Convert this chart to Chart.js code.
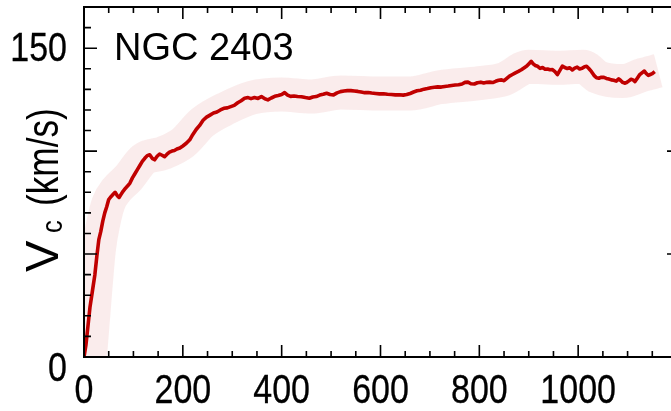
<!DOCTYPE html>
<html>
<head>
<meta charset="utf-8">
<script src="https://cdn.jsdelivr.net/npm/chart.js@4.4.0/dist/chart.umd.min.js"></script>
<style>
  html, body { margin: 0; padding: 0; background: #fff; overflow: hidden; width: 671px; height: 411px; }
  #wrap { position: absolute; left: 0; top: 0; width: 700px; height: 411px; }
</style>
</head>
<body>
<div id="wrap"><canvas id="c" width="700" height="411"></canvas></div>
<script>
// Rotation curve of NGC 2403: radius and circular velocity
const radius = [
  0, 4, 8, 12, 17, 22, 26, 30, 34, 38, 42, 46, 50, 55, 59, 63, 67, 71, 75, 79,
  84, 88, 93, 98, 103, 108, 113, 118, 123, 128, 133, 138, 143, 148, 153, 158, 163, 168, 173, 178,
  183, 188, 194, 200, 207, 214, 220, 227, 234, 241, 248, 255, 262, 269, 276, 283, 290, 297, 304, 311,
  318, 325, 332, 338, 345, 352, 359, 366, 372, 379, 386, 393, 400, 406, 412, 418, 425, 432, 440, 448,
  456, 463, 470, 477, 484, 491, 498, 505, 512, 519, 526, 533, 540, 547, 554, 561, 568, 575, 582, 590,
  598, 606, 614, 622, 630, 638, 646, 653, 660, 667, 674, 681, 688, 695, 702, 709, 716, 723, 730, 737,
  744, 751, 758, 765, 771, 777, 783, 790, 796, 803, 809, 815, 821, 827, 833, 839, 845, 850, 855, 861,
  867, 873, 879, 885, 891, 896, 901, 905, 909, 913, 918, 923, 928, 933, 938, 943, 948, 953, 958, 963,
  968, 973, 978, 983, 988, 993, 998, 1003, 1008, 1013, 1017, 1022, 1027, 1032, 1037, 1042, 1047, 1052, 1057, 1062,
  1067, 1072, 1077, 1082, 1086, 1090, 1094, 1098, 1102, 1107, 1111, 1115, 1119, 1124, 1129, 1134, 1138, 1142, 1146, 1150,
  1155
];
const velocity = [
  0, 6, 15, 24, 32, 40, 49, 57, 61, 66, 70, 73, 76.5, 78, 79, 80, 78.5, 77.5, 79, 80.5,
  82, 83, 84.5, 87, 89, 91, 93, 95, 96.5, 97.8, 98.2, 96.5, 95.8, 97.5, 98.6, 98, 97.3, 98.5, 99.5, 100,
  100.3, 101, 101.5, 102.5, 103.8, 105.5, 108, 110.5, 112.5, 115, 116.5, 117.5, 118.5, 119, 120, 120.8, 121, 121.6, 122.2, 123.5,
  124.5, 125.7, 126, 125.5, 126, 125.6, 126.5, 125.4, 124.9, 125.8, 126.6, 127, 127.5, 128.4, 127.2, 126.6, 126.8, 126.5, 126.4, 126,
  125.7, 126.3, 126.5, 127.2, 127.6, 128.1, 127.5, 127.3, 128.3, 128.9, 129.2, 129.4, 129.4, 129.2, 129, 128.7, 128.4, 128.5, 128.2, 128,
  127.8, 127.9, 127.6, 127.5, 127.3, 127.4, 127.2, 127.5, 128, 128.7, 129.3, 129.6, 130.1, 130.4, 130.8, 131, 131.2, 131.1, 131.4, 131.6,
  131.9, 132.1, 132.2, 132.6, 133.4, 133.5, 132.7, 132.6, 133.2, 133.5, 133.1, 133.4, 133.5, 133.3, 133.9, 134.4, 134.6, 134.2, 135.2, 136.4,
  137.2, 138, 138.7, 139.5, 140.5, 141.3, 142.6, 143.6, 142.4, 141.6, 141.2, 140.2, 140.6, 139.8, 139.9, 139.5, 139.6, 138.6, 137.2, 139.2,
  141.3, 140.6, 140.1, 140.5, 139.4, 140.3, 140.8, 139.9, 140.2, 141, 141.2, 140, 138.6, 136.8, 135.6, 135.4, 135.9, 135.8, 135.3, 135,
  134.6, 134.4, 134, 135.1, 134.3, 133.4, 133, 133.3, 134, 134.9, 134.6, 133.8, 135.2, 137, 138, 138.9, 137.6, 136.8, 137.2, 137.6,
  138.6
];

// Smoothed uncertainty envelope around the curve
const bandRadius = [10, 22, 30, 40, 50, 65, 90, 120, 160, 200, 240, 290, 340, 400, 460, 520, 600, 660, 720, 800, 850, 900, 960, 1010, 1040, 1090, 1130, 1162];
const bandVelocity = [-6, 30, 52, 66, 75, 81, 87, 96, 99, 104, 114, 121, 126, 127.5, 126.5, 128.5, 128, 128, 131, 133, 135, 141, 140.5, 141, 136, 134, 137, 139];

// Axis ticks and labels
const xTickValues = [0, 200, 400, 600, 800, 1000];
const xTickLabels = ['0', '200', '400', '600', '800', '1000'];
const yTickValues = [0, 150];
const yTickLabels = ['0', '150'];
const galaxyName = 'NGC 2403';

const X_MIN = 0, X_MAX = 1200, Y_MIN = 0, Y_MAX = 170;
const NARROW = 0.85;   // horizontal squeeze for the condensed axis lettering

const toPoints = (xs, ys) => xs.map((x, i) => ({ x: x, y: ys[i] }));

function condensedText(ctx, text, x, y, align, squeeze, weight) {
  const sx = squeeze === undefined ? NARROW : squeeze;
  ctx.save();
  ctx.translate(x, y);
  ctx.scale(sx, 1);
  ctx.textAlign = align;
  ctx.fillText(text, 0, 0);
  if (weight) {
    ctx.lineWidth = weight;
    ctx.strokeStyle = '#000';
    ctx.strokeText(text, 0, 0);
  }
  const w = ctx.measureText(text).width * sx;
  ctx.restore();
  return w;
}

const framePlugin = {
  id: 'frame',
  afterDatasetsDraw(chart) {
    const ctx = chart.ctx;
    const a = chart.chartArea;
    const xs = chart.scales.x, ys = chart.scales.y;
    ctx.save();
    ctx.strokeStyle = '#000';
    ctx.lineWidth = 2;
    ctx.strokeRect(a.left, a.top, a.right - a.left, a.bottom - a.top);

    ctx.lineWidth = 1.6;
    ctx.beginPath();
    // x ticks: bottom and top, pointing inward
    for (let v = X_MIN; v <= X_MAX; v += 50) {
      const px = xs.getPixelForValue(v);
      const len = v % 200 === 0 ? 12 : 6;
      ctx.moveTo(px, a.bottom); ctx.lineTo(px, a.bottom - len);
      ctx.moveTo(px, a.top); ctx.lineTo(px, a.top + len);
    }
    // y ticks: left and right, pointing inward
    for (let v = Y_MIN; v <= Y_MAX; v += 10) {
      const py = ys.getPixelForValue(v);
      const major = v % 50 === 0;
      ctx.moveTo(a.left, py); ctx.lineTo(a.left + (major ? 13 : 7), py);
      ctx.moveTo(a.right, py); ctx.lineTo(a.right - (major ? 10 : 6), py);
    }
    ctx.stroke();

    // tick labels
    ctx.fillStyle = '#000';
    ctx.font = '40px "Liberation Sans", Arial, sans-serif';
    ctx.textBaseline = 'alphabetic';
    xTickValues.forEach((v, i) => {
      condensedText(ctx, xTickLabels[i], xs.getPixelForValue(v), a.bottom + 46, 'center', NARROW, 0.3);
    });
    yTickValues.forEach((v, i) => {
      const py = ys.getPixelForValue(v);
      // the zero label sits below its tick to clear the x-axis zero
      const base = v === 0 ? py + 24 : py + 13;
      condensedText(ctx, yTickLabels[i], 67, base, 'right', NARROW, 0.3);
    });

    // galaxy name
    ctx.textAlign = 'left';
    ctx.font = '38px "Liberation Sans", Arial, sans-serif';
    ctx.fillText(galaxyName, 114, 60);

    // y axis title: V_c (km/s)
    ctx.translate(58, 272);
    ctx.rotate(-Math.PI / 2);
    ctx.font = '47px "Liberation Sans", Arial, sans-serif';
    condensedText(ctx, 'V', 0, 0, 'left', 1);
    ctx.font = '30px "Liberation Sans", Arial, sans-serif';
    condensedText(ctx, 'c', 39, 4, 'left', 0.85);
    ctx.font = '44px "Liberation Sans", Arial, sans-serif';
    condensedText(ctx, '(km/s)', 66, 0, 'left', 0.8);
    ctx.restore();
  }
};

new Chart(document.getElementById('c'), {
  type: 'line',
  data: {
    datasets: [
      {
        label: 'Vc',
        data: toPoints(radius, velocity),
        borderColor: '#c00000',
        borderWidth: 3.6,
        pointRadius: 0,
        tension: 0,
        borderJoinStyle: 'round',
        clip: 0,
        order: 1
      },
      {
        label: 'envelope',
        data: toPoints(bandRadius, bandVelocity),
        borderColor: 'rgba(232, 170, 170, 0.22)',
        borderWidth: 34,
        pointRadius: 0,
        tension: 0.4,
        cubicInterpolationMode: 'monotone',
        borderCapStyle: 'butt',
        borderJoinStyle: 'round',
        clip: 0,
        order: 2
      }
    ]
  },
  options: {
    responsive: false,
    animation: false,
    events: [],
    layout: { padding: { top: 7, right: 23, left: 0, bottom: 0 } },
    plugins: { legend: { display: false }, tooltip: { enabled: false } },
    scales: {
      x: {
        type: 'linear', min: X_MIN, max: X_MAX,
        ticks: { display: false }, grid: { display: false }, border: { display: false },
        afterFit(s) { s.height = 54; }
      },
      y: {
        type: 'linear', min: Y_MIN, max: Y_MAX,
        ticks: { display: false }, grid: { display: false }, border: { display: false },
        afterFit(s) { s.width = 84; }
      }
    }
  },
  plugins: [framePlugin]
});
</script>
</body>
</html>
